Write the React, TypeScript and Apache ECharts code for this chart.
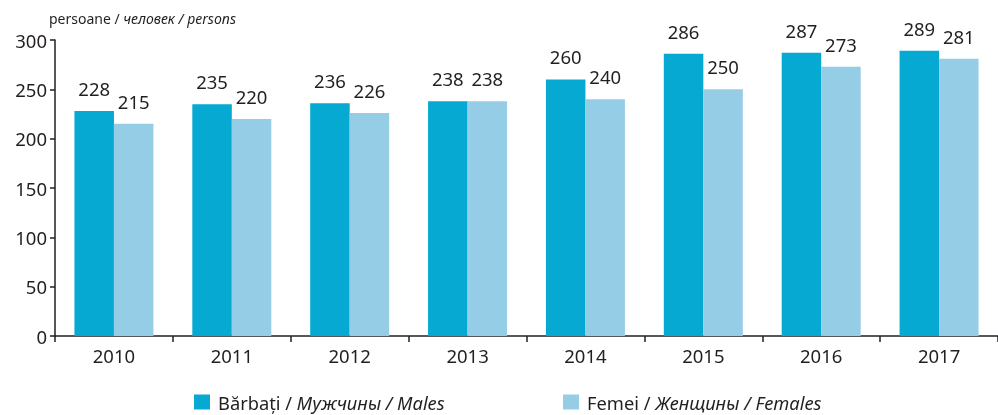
import React, { useEffect, useRef } from "react";
import * as echarts from "echarts";

const categories = ["2010", "2011", "2012", "2013", "2014", "2015", "2016", "2017"];
const males = [228, 235, 236, 238, 260, 286, 287, 289];
const females = [215, 220, 226, 238, 240, 250, 273, 281];
const yTicks = { min: 0, max: 300, interval: 50 };

const FONT = "'Noto Sans', sans-serif";
const TXT = "#231f20";
const FS = 18.5;

export default function App() {
  const ref = useRef<HTMLDivElement>(null);
  useEffect(() => {
    if (!ref.current) return;
    const chart = echarts.init(ref.current, null, { renderer: "svg" });
    const labelStyle = {
      show: true,
      position: "top" as const,
      distance: 13,
      fontSize: FS,
      color: TXT,
      fontFamily: FONT,
    };
    const legendRich = {
      n: { fontSize: 18.3, color: TXT, fontFamily: FONT, lineHeight: 18 },
      i: { fontSize: 18.3, color: TXT, fontFamily: FONT, fontStyle: "italic", lineHeight: 18 },
    };
    const legendBase = {
      top: 393,
      icon: "rect",
      itemWidth: 16,
      itemHeight: 15,
      selectedMode: false,
      padding: 0,
      textStyle: { rich: legendRich, padding: [0, 0, 0, 3] },
    };
    chart.setOption({
      animation: false,
      textStyle: { fontFamily: FONT },
      graphic: [
        {
          type: "text",
          left: 49,
          top: 11,
          style: {
            text: "{n|persoane / }{i|человек / persons}",
            rich: {
              n: { fontSize: 14, fill: TXT, fontFamily: FONT },
              i: { fontSize: 14, fill: TXT, fontFamily: FONT, fontStyle: "italic" },
            },
          },
        },
      ],
      legend: [
        {
          ...legendBase,
          left: 194,
          data: ["m"],
          formatter: () => "{n|Bărbați / }{i|Мужчины / Males}",
        },
        {
          ...legendBase,
          left: 563,
          data: ["f"],
          formatter: () => "{n|Femei / }{i|Женщины / Females}",
        },
      ],
      grid: { left: 55, top: 40, width: 947, bottom: 79, containLabel: false },
      xAxis: {
        type: "category",
        data: categories,
        axisLine: { lineStyle: { color: TXT, width: 1.5 } },
        axisTick: { show: true, length: 6, lineStyle: { color: TXT, width: 1.5 } },
        axisLabel: { fontSize: FS, color: TXT, margin: 10, fontFamily: FONT },
      },
      yAxis: {
        type: "value",
        min: yTicks.min,
        max: yTicks.max,
        interval: yTicks.interval,
        axisLine: { show: true, lineStyle: { color: TXT, width: 1.5 } },
        axisTick: { show: true, length: 5, lineStyle: { color: TXT, width: 1.5 } },
        splitLine: { show: false },
        axisLabel: { fontSize: FS, color: TXT, margin: 8, fontFamily: FONT },
      },
      series: [
        {
          name: "m",
          type: "bar",
          data: males,
          barWidth: 39.5,
          barGap: "0%",
          itemStyle: { color: "#05a9d1" },
          label: labelStyle,
        },
        {
          name: "f",
          type: "bar",
          data: females,
          barWidth: 39.5,
          barGap: "0%",
          itemStyle: { color: "#95cde6" },
          label: labelStyle,
        },
      ],
    });
    return () => chart.dispose();
  }, []);
  return (
    <div
      ref={ref}
      style={{ position: "fixed", left: 0, top: 0, width: 998, height: 415 }}
    />
  );
}
